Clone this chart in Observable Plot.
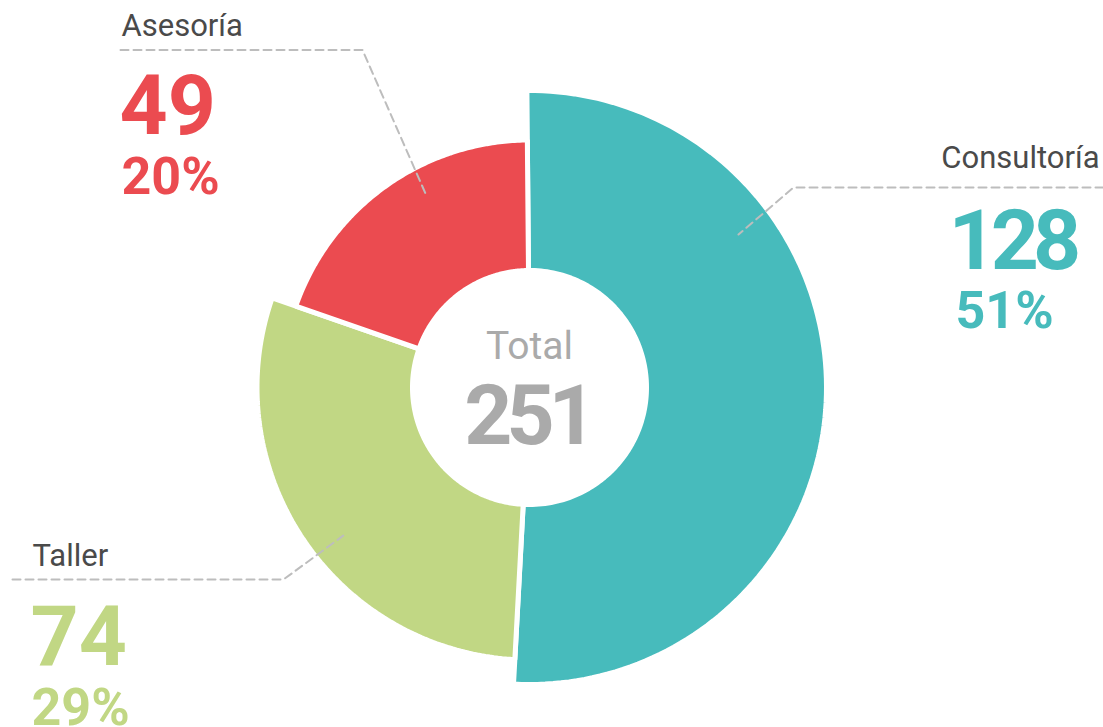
<!DOCTYPE html>
<html><head><meta charset="utf-8">
<script src="https://cdn.jsdelivr.net/npm/d3@7"></script>
<script src="https://cdn.jsdelivr.net/npm/@observablehq/plot@0.6"></script>
<style>
html,body{margin:0;padding:0;background:#fff;overflow:hidden}
#chart{width:1103px;height:727px}
</style></head><body><div id="chart"></div>
<script>
// ---- data ----
const categories = ["Consultoría", "Taller", "Asesoría"];
const values = [128, 74, 49];
const centerLabel = "Total";

// ---- style / layout ----
const palette = ["#47BBBC", "#C1D784", "#EB4B50"];
const W = 1103, H = 727, CX = 529, CY = 387;
const outerR = [297, 272.5, 247.5];
const innerR = 117;
const gap = 5;
const rotation = -0.5 / 360;
const numFont = "Roboto, 'Noto Sans', sans-serif";
const labFont = "Roboto, 'Noto Sans', sans-serif";
// label layout in page pixels: name, value, percent anchors; leader: elbow & end, anchor angle (deg) & radius
const layout = [
  {name:[1099,167], nameAnchor:"end", val:[948,268], pct:[955,327], lead:[[1103,187],[793,187]], anchorDeg:53.8, anchorR:259},
  {name:[32,565], nameAnchor:"start", val:[30,664], pct:[31,724], lead:[[12,579],[283,579]], anchorDeg:231.5, anchorR:238},
  {name:[121,35], nameAnchor:"start", val:[119,133], pct:[121,193], lead:[[120,49.5],[362,49.5]], anchorDeg:331.8, anchorR:220}
];

const total = d3.sum(values);
const fractions = values.map(v => v / total);
const starts = [0, ...d3.cumsum(fractions)];
const px = p => ({x: p[0] - CX, y: CY - p[1]});
function polar(frac, r) { const a = frac * 2 * Math.PI; return {x: r * Math.sin(a), y: r * Math.cos(a)}; }

const marks = [];
categories.forEach((c, i) => {
  const a0 = starts[i] + rotation, a1 = starts[i + 1] + rotation;
  const n = 120;
  const pts = [];
  for (let k = 0; k <= n; k++) pts.push(polar(a0 + (a1 - a0) * k / n, outerR[i]));
  for (let k = n; k >= 0; k--) pts.push(polar(a0 + (a1 - a0) * k / n, innerR));
  marks.push(Plot.line(pts, {x: "x", y: "y", curve: "linear-closed", fill: palette[i], stroke: "white", strokeWidth: gap, strokeLinejoin: "miter"}));
});

categories.forEach((c, i) => {
  const L = layout[i];
  const leader = [px(L.lead[0]), px(L.lead[1]), polar(L.anchorDeg / 360, L.anchorR)];
  marks.push(Plot.line(leader, {x: "x", y: "y", stroke: "#bdbdbd", strokeWidth: 2, strokeDasharray: "8,5"}));
  marks.push(Plot.text([{...px(L.name), t: c}], {x: "x", y: "y", text: "t", textAnchor: L.nameAnchor, lineAnchor: "bottom", fill: "#4a4a4a", fontSize: 31, fontFamily: labFont}));
  marks.push(Plot.text([{...px(L.val), t: String(values[i])}], {x: "x", y: "y", text: "t", textAnchor: "start", lineAnchor: "bottom", fill: palette[i], fontSize: 84, fontWeight: "bold", fontFamily: numFont}));
  marks.push(Plot.text([{...px(L.pct), t: Math.round(fractions[i] * 100) + "%"}], {x: "x", y: "y", text: "t", textAnchor: "start", lineAnchor: "bottom", fill: palette[i], fontSize: 52, fontWeight: "bold", fontFamily: numFont}));
});

marks.push(Plot.text([{...px([529, 358]), t: centerLabel}], {x: "x", y: "y", text: "t", textAnchor: "middle", lineAnchor: "bottom", fill: "#aaaaaa", fontSize: 39, fontFamily: labFont}));
marks.push(Plot.text([{...px([527, 443]), t: String(total)}], {x: "x", y: "y", text: "t", textAnchor: "middle", lineAnchor: "bottom", fill: "#aaaaaa", fontSize: 84, fontWeight: "bold", fontFamily: numFont}));

const chart = Plot.plot({
  width: W, height: H,
  marginTop: 0, marginRight: 0, marginBottom: 0, marginLeft: 0,
  x: {domain: [-CX, W - CX], axis: null},
  y: {domain: [CY - H, CY], axis: null},
  style: {background: "white", overflow: "visible"},
  marks
});
// narrower "1" like proportional figures in the reference
d3.select(chart).selectAll("text").filter(function () { return /^\d*1\d*$/.test(this.textContent) && this.textContent.length === 3; })
  .style("letter-spacing", "-6px");
document.getElementById("chart").appendChild(chart);
</script>
</body></html>
